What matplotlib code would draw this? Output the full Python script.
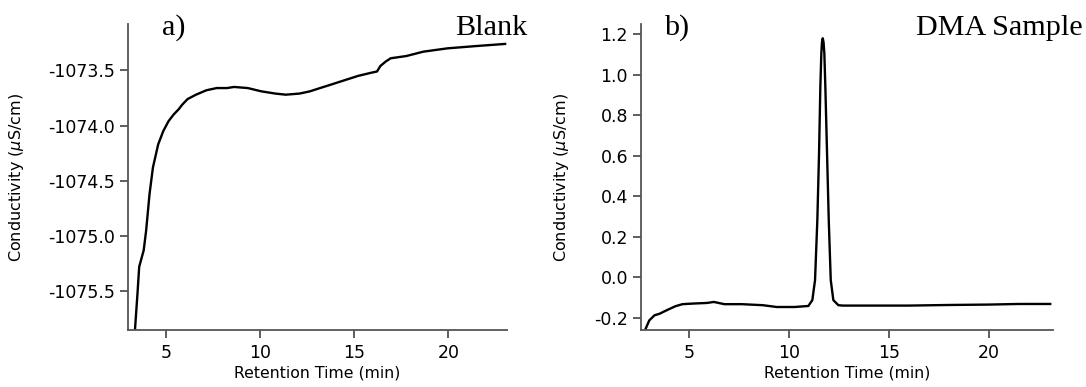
import matplotlib
matplotlib.use("Agg")
import matplotlib.pyplot as plt

# Panel a: Blank
blank_t = [3.35, 3.48, 3.57, 3.81, 3.94, 4.12, 4.30, 4.58, 4.85, 5.13, 5.40, 5.68, 5.86,
           6.14, 6.59, 7.14, 7.69, 8.24, 8.61, 9.34, 10.07, 10.81, 11.36, 12.09, 12.64,
           13.00, 13.74, 14.47, 15.20, 15.93, 16.21, 16.39, 16.67, 16.94, 17.76, 18.68,
           19.96, 21.43, 23.02]
blank_c = [-1075.84, -1075.52, -1075.28, -1075.13, -1074.95, -1074.62, -1074.38, -1074.17,
           -1074.05, -1073.96, -1073.90, -1073.85, -1073.81, -1073.76, -1073.72, -1073.68,
           -1073.66, -1073.66, -1073.65, -1073.66, -1073.69, -1073.71, -1073.72, -1073.71,
           -1073.69, -1073.67, -1073.63, -1073.59, -1073.55, -1073.52, -1073.51, -1073.46,
           -1073.42, -1073.39, -1073.37, -1073.33, -1073.30, -1073.28, -1073.26]

# Panel b: DMA Sample
dma_t = [2.85, 3.03, 3.29, 3.55, 3.90, 4.34, 4.69, 5.21, 5.91, 6.26, 6.78, 7.65, 8.70,
         9.40, 10.28, 10.98, 11.18, 11.315, 11.43, 11.515, 11.58, 11.63, 11.66, 11.70,
         11.74, 11.78, 11.83, 11.915, 12.0, 12.1, 12.23, 12.48, 12.71, 14.0, 16.0, 18.0,
         20.0, 21.5, 23.07]
dma_c = [-0.254, -0.213, -0.188, -0.180, -0.163, -0.143, -0.133, -0.130, -0.127, -0.122,
         -0.133, -0.133, -0.138, -0.147, -0.147, -0.142, -0.113, -0.014, 0.283, 0.612,
         0.941, 1.106, 1.16, 1.18, 1.16, 1.106, 0.941, 0.612, 0.283, -0.014, -0.113, -0.138,
         -0.140, -0.140, -0.140, -0.137, -0.135, -0.132, -0.132]

x_ticks = [5, 10, 15, 20]
a_yticks = [-1075.5, -1075.0, -1074.5, -1074.0, -1073.5]
b_yticks = [-0.2, 0.0, 0.2, 0.4, 0.6, 0.8, 1.0, 1.2]

plt.rcParams['axes.unicode_minus'] = False
plt.rcParams['mathtext.fontset'] = 'dejavusans'

fig = plt.figure(figsize=(10.86, 3.87), dpi=100)
ax_a = fig.add_axes([0.1176, 0.146, 0.3496, 0.7907])
ax_b = fig.add_axes([0.5905, 0.146, 0.3795, 0.7907])

axis_col = '#555555'
for ax in (ax_a, ax_b):
    for s in ('top', 'right'):
        ax.spines[s].set_visible(False)
    for s in ('left', 'bottom'):
        ax.spines[s].set_color(axis_col)
        ax.spines[s].set_linewidth(1.3)
    ax.tick_params(direction='out', length=6, width=1.1, color='#333333',
                   labelsize=12.5, pad=3.5)
    ax.set_xticks(x_ticks)
    ax.set_xlabel('Retention Time (min)', fontsize=11.3, labelpad=3)
    ax.set_ylabel('Conductivity ($\\mu$S/cm)', fontsize=11.5)

ax_a.plot(blank_t, blank_c, color='black', lw=1.7)
ax_a.set_xlim(2.96, 23.14)
ax_a.set_ylim(-1075.857, -1073.084)
ax_a.set_yticks(a_yticks)
ax_a.set_yticklabels(['%.1f' % v for v in a_yticks])
ax_a.yaxis.set_label_coords(-0.268, 0.5)

ax_b.plot(dma_t, dma_c, color='black', lw=1.7)
ax_b.set_xlim(2.63, 23.23)
ax_b.set_ylim(-0.263, 1.248)
ax_b.set_yticks(b_yticks)
ax_b.set_yticklabels(['%.1f' % v for v in b_yticks])
ax_b.yaxis.set_label_coords(-0.171, 0.5)

serif = 'Liberation Serif'
ax_a.text(0.0895, 0.9657, 'a)', transform=ax_a.transAxes, fontsize=21.7, family=serif,
          ha='left', va='baseline')
ax_a.text(1.054, 0.9657, 'Blank', transform=ax_a.transAxes, fontsize=21.7, family=serif,
          ha='right', va='baseline')
ax_b.text(0.054, 0.9657, 'b)', transform=ax_b.transAxes, fontsize=21.7, family=serif,
          ha='left', va='baseline')
ax_b.text(1.072, 0.9657, 'DMA Sample', transform=ax_b.transAxes, fontsize=21.7, family=serif,
          ha='right', va='baseline')

fig.savefig('out.png', dpi=100)
